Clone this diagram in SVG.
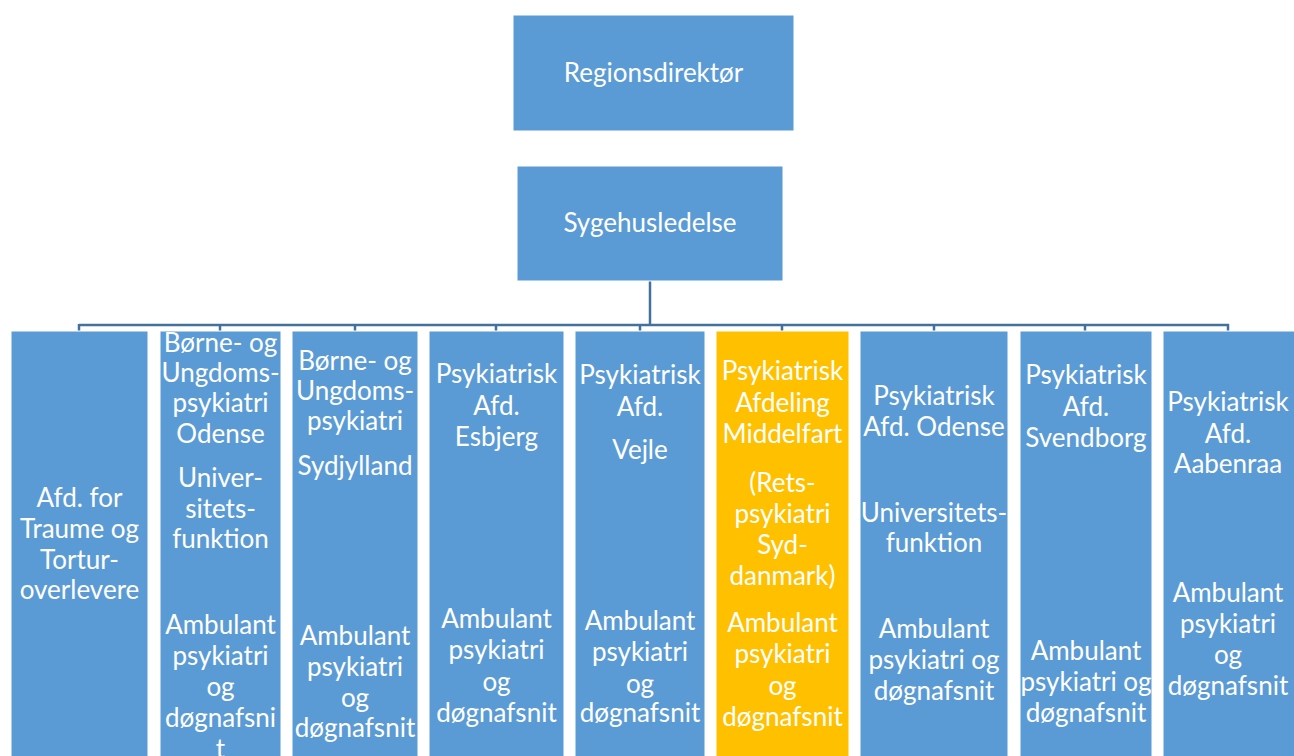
<svg xmlns="http://www.w3.org/2000/svg" width="1294" height="756" viewBox="0 0 1294 756">
<style>
.box{fill:#5B9BD5;stroke:#FFFFFF;stroke-width:1}
.hl{fill:#FFC000;stroke:#FFFFFF;stroke-width:1}
.t{font-family:Lato,"Liberation Sans",sans-serif;font-size:26px;fill:#FFFFFF;text-anchor:middle}
.c{fill:none;stroke:#41719C;stroke-width:2.5}
</style>
<rect width="1294" height="756" fill="#FFFFFF"/>
<g id="connectors">
<path class="c" d="M650,281 V325 M79,325 H1229 M79,324 V331 M220,324 V331 M355,324 V331 M496,324 V331 M640,324 V331 M782,324 V331 M934,324 V331 M1085,324 V331 M1228,324 V331"/>
</g>
<g id="regionsdirektor">
<rect class="box" x="513" y="15" width="281" height="116"/>
<text class="t" x="653.5" y="82">Regionsdirektør</text>
</g>
<g id="sygehusledelse">
<rect class="box" x="517" y="166" width="266" height="115"/>
<text class="t" x="650" y="232">Sygehusledelse</text>
</g>
<g id="col1">
<rect class="box" x="11" y="331" width="137" height="430"/>
<text class="t" x="79.5" y="507">Afd. for</text>
<text class="t" x="79.5" y="538">Traume og</text>
<text class="t" x="79.5" y="569">Tortur-</text>
<text class="t" x="79.5" y="599">overlevere</text>
</g>
<g id="col2">
<rect class="box" x="160" y="331" width="121" height="430"/>
<text class="t" x="220.5" y="352">Børne- og</text>
<text class="t" x="220.5" y="382">Ungdoms-</text>
<text class="t" x="220.5" y="412">psykiatri</text>
<text class="t" x="220.5" y="443">Odense</text>
<text class="t" x="220.5" y="487">Univer-</text>
<text class="t" x="220.5" y="518">sitets-</text>
<text class="t" x="220.5" y="548">funktion</text>
<text class="t" x="220.5" y="634">Ambulant</text>
<text class="t" x="220.5" y="665">psykiatri</text>
<text class="t" x="220.5" y="696">og</text>
<text class="t" x="220.5" y="727">døgnafsni</text>
<text class="t" x="220.5" y="758">t</text>
</g>
<g id="col3">
<rect class="box" x="292" y="331" width="126" height="430"/>
<text class="t" x="355" y="370">Børne- og</text>
<text class="t" x="355" y="400">Ungdoms-</text>
<text class="t" x="355" y="430">psykiatri</text>
<text class="t" x="355" y="475">Sydjylland</text>
<text class="t" x="355" y="645">Ambulant</text>
<text class="t" x="355" y="676">psykiatri</text>
<text class="t" x="355" y="707">og</text>
<text class="t" x="355" y="737">døgnafsnit</text>
</g>
<g id="col4">
<rect class="box" x="429" y="331" width="135" height="430"/>
<text class="t" x="496.5" y="383">Psykiatrisk</text>
<text class="t" x="496.5" y="415">Afd.</text>
<text class="t" x="496.5" y="446">Esbjerg</text>
<text class="t" x="496.5" y="628">Ambulant</text>
<text class="t" x="496.5" y="659">psykiatri</text>
<text class="t" x="496.5" y="691">og</text>
<text class="t" x="496.5" y="722">døgnafsnit</text>
</g>
<g id="col5">
<rect class="box" x="575" y="331" width="130" height="430"/>
<text class="t" x="640" y="384">Psykiatrisk</text>
<text class="t" x="640" y="416">Afd.</text>
<text class="t" x="640" y="459">Vejle</text>
<text class="t" x="640" y="630">Ambulant</text>
<text class="t" x="640" y="661">psykiatri</text>
<text class="t" x="640" y="693">og</text>
<text class="t" x="640" y="722">døgnafsnit</text>
</g>
<g id="col6">
<rect class="hl" x="716" y="331" width="133" height="430"/>
<text class="t" x="782.5" y="380">Psykiatrisk</text>
<text class="t" x="782.5" y="412">Afdeling</text>
<text class="t" x="782.5" y="443">Middelfart</text>
<text class="t" x="782.5" y="492">(Rets-</text>
<text class="t" x="782.5" y="523">psykiatri</text>
<text class="t" x="782.5" y="554">Syd-</text>
<text class="t" x="782.5" y="585">danmark)</text>
<text class="t" x="782.5" y="632">Ambulant</text>
<text class="t" x="782.5" y="663">psykiatri</text>
<text class="t" x="782.5" y="695">og</text>
<text class="t" x="782.5" y="726">døgnafsnit</text>
</g>
<g id="col7">
<rect class="box" x="860" y="331" width="148" height="430"/>
<text class="t" x="934" y="405">Psykiatrisk</text>
<text class="t" x="934" y="436">Afd. Odense</text>
<text class="t" x="934" y="522">Universitets-</text>
<text class="t" x="934" y="552">funktion</text>
<text class="t" x="934" y="638">Ambulant</text>
<text class="t" x="934" y="669">psykiatri og</text>
<text class="t" x="934" y="700">døgnafsnit</text>
</g>
<g id="col8">
<rect class="box" x="1020" y="331" width="132" height="430"/>
<text class="t" x="1086" y="384">Psykiatrisk</text>
<text class="t" x="1086" y="416">Afd.</text>
<text class="t" x="1086" y="447">Svendborg</text>
<text class="t" x="1086" y="660">Ambulant</text>
<text class="t" x="1086" y="691">psykiatri og</text>
<text class="t" x="1086" y="722">døgnafsnit</text>
</g>
<g id="col9">
<rect class="box" x="1163" y="331" width="135" height="430"/>
<text class="t" x="1228" y="411">Psykiatrisk</text>
<text class="t" x="1228" y="443">Afd.</text>
<text class="t" x="1228" y="473">Aabenraa</text>
<text class="t" x="1228" y="602">Ambulant</text>
<text class="t" x="1228" y="633">psykiatri</text>
<text class="t" x="1228" y="664">og</text>
<text class="t" x="1228" y="695">døgnafsnit</text>
</g>
</svg>
